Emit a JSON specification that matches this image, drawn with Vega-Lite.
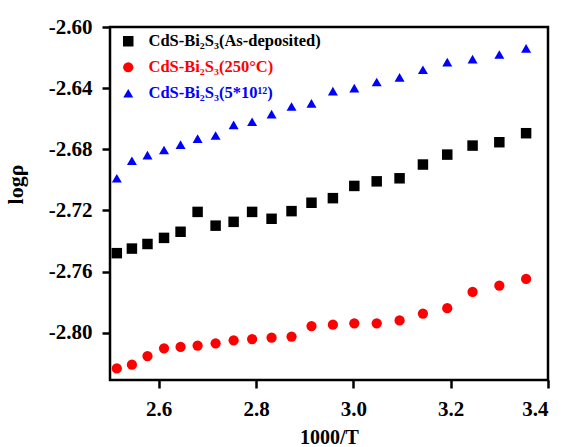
{
  "$schema": "https://vega.github.io/schema/vega-lite/v6.json",
  "autosize": "none",
  "width": 438,
  "height": 353,
  "padding": {"left": 110, "top": 27, "right": 15, "bottom": 67},
  "background": "white",
  "config": {
    "view": {"stroke": "black", "strokeWidth": 2.5},
    "font": "Liberation Serif",
    "axis": {
      "domain": false,
      "grid": false,
      "ticks": true,
      "tickColor": "black",
      "tickWidth": 2.5,
      "tickSize": 8,
      "labelFont": "Liberation Serif",
      "labelFontWeight": "bold",
      "labelFontSize": 21,
      "labelColor": "black",
      "labelPadding": 10,
      "titleFont": "Liberation Serif",
      "titleFontWeight": "bold",
      "titleFontSize": 21,
      "titleColor": "black"
    }
  },
  "data": {
    "values": [
      {"x": 2.514, "y": -2.748, "s": "CdS-Bi₂S₃(As-deposited)"},
      {"x": 2.545, "y": -2.745, "s": "CdS-Bi₂S₃(As-deposited)"},
      {"x": 2.577, "y": -2.742, "s": "CdS-Bi₂S₃(As-deposited)"},
      {"x": 2.611, "y": -2.738, "s": "CdS-Bi₂S₃(As-deposited)"},
      {"x": 2.645, "y": -2.734, "s": "CdS-Bi₂S₃(As-deposited)"},
      {"x": 2.680, "y": -2.721, "s": "CdS-Bi₂S₃(As-deposited)"},
      {"x": 2.717, "y": -2.730, "s": "CdS-Bi₂S₃(As-deposited)"},
      {"x": 2.754, "y": -2.7275, "s": "CdS-Bi₂S₃(As-deposited)"},
      {"x": 2.792, "y": -2.721, "s": "CdS-Bi₂S₃(As-deposited)"},
      {"x": 2.832, "y": -2.7255, "s": "CdS-Bi₂S₃(As-deposited)"},
      {"x": 2.873, "y": -2.7205, "s": "CdS-Bi₂S₃(As-deposited)"},
      {"x": 2.914, "y": -2.715, "s": "CdS-Bi₂S₃(As-deposited)"},
      {"x": 2.958, "y": -2.712, "s": "CdS-Bi₂S₃(As-deposited)"},
      {"x": 3.002, "y": -2.704, "s": "CdS-Bi₂S₃(As-deposited)"},
      {"x": 3.048, "y": -2.701, "s": "CdS-Bi₂S₃(As-deposited)"},
      {"x": 3.095, "y": -2.699, "s": "CdS-Bi₂S₃(As-deposited)"},
      {"x": 3.143, "y": -2.690, "s": "CdS-Bi₂S₃(As-deposited)"},
      {"x": 3.193, "y": -2.6835, "s": "CdS-Bi₂S₃(As-deposited)"},
      {"x": 3.245, "y": -2.6776, "s": "CdS-Bi₂S₃(As-deposited)"},
      {"x": 3.300, "y": -2.6754, "s": "CdS-Bi₂S₃(As-deposited)"},
      {"x": 3.355, "y": -2.6695, "s": "CdS-Bi₂S₃(As-deposited)"},
      {"x": 2.514, "y": -2.8234, "s": "CdS-Bi₂S₃(250°C)"},
      {"x": 2.545, "y": -2.821, "s": "CdS-Bi₂S₃(250°C)"},
      {"x": 2.577, "y": -2.8153, "s": "CdS-Bi₂S₃(250°C)"},
      {"x": 2.611, "y": -2.8103, "s": "CdS-Bi₂S₃(250°C)"},
      {"x": 2.645, "y": -2.8094, "s": "CdS-Bi₂S₃(250°C)"},
      {"x": 2.680, "y": -2.8085, "s": "CdS-Bi₂S₃(250°C)"},
      {"x": 2.717, "y": -2.807, "s": "CdS-Bi₂S₃(250°C)"},
      {"x": 2.754, "y": -2.805, "s": "CdS-Bi₂S₃(250°C)"},
      {"x": 2.792, "y": -2.8042, "s": "CdS-Bi₂S₃(250°C)"},
      {"x": 2.832, "y": -2.8033, "s": "CdS-Bi₂S₃(250°C)"},
      {"x": 2.873, "y": -2.8026, "s": "CdS-Bi₂S₃(250°C)"},
      {"x": 2.914, "y": -2.7957, "s": "CdS-Bi₂S₃(250°C)"},
      {"x": 2.958, "y": -2.7948, "s": "CdS-Bi₂S₃(250°C)"},
      {"x": 3.002, "y": -2.7939, "s": "CdS-Bi₂S₃(250°C)"},
      {"x": 3.048, "y": -2.7939, "s": "CdS-Bi₂S₃(250°C)"},
      {"x": 3.095, "y": -2.792, "s": "CdS-Bi₂S₃(250°C)"},
      {"x": 3.143, "y": -2.7875, "s": "CdS-Bi₂S₃(250°C)"},
      {"x": 3.193, "y": -2.784, "s": "CdS-Bi₂S₃(250°C)"},
      {"x": 3.245, "y": -2.7734, "s": "CdS-Bi₂S₃(250°C)"},
      {"x": 3.300, "y": -2.7692, "s": "CdS-Bi₂S₃(250°C)"},
      {"x": 3.355, "y": -2.7649, "s": "CdS-Bi₂S₃(250°C)"},
      {"x": 2.514, "y": -2.699, "s": "CdS-Bi₂S₃(5*10¹²)"},
      {"x": 2.545, "y": -2.6875, "s": "CdS-Bi₂S₃(5*10¹²)"},
      {"x": 2.577, "y": -2.6838, "s": "CdS-Bi₂S₃(5*10¹²)"},
      {"x": 2.611, "y": -2.6805, "s": "CdS-Bi₂S₃(5*10¹²)"},
      {"x": 2.645, "y": -2.677, "s": "CdS-Bi₂S₃(5*10¹²)"},
      {"x": 2.680, "y": -2.673, "s": "CdS-Bi₂S₃(5*10¹²)"},
      {"x": 2.717, "y": -2.671, "s": "CdS-Bi₂S₃(5*10¹²)"},
      {"x": 2.754, "y": -2.664, "s": "CdS-Bi₂S₃(5*10¹²)"},
      {"x": 2.792, "y": -2.662, "s": "CdS-Bi₂S₃(5*10¹²)"},
      {"x": 2.832, "y": -2.657, "s": "CdS-Bi₂S₃(5*10¹²)"},
      {"x": 2.873, "y": -2.652, "s": "CdS-Bi₂S₃(5*10¹²)"},
      {"x": 2.914, "y": -2.650, "s": "CdS-Bi₂S₃(5*10¹²)"},
      {"x": 2.958, "y": -2.642, "s": "CdS-Bi₂S₃(5*10¹²)"},
      {"x": 3.002, "y": -2.640, "s": "CdS-Bi₂S₃(5*10¹²)"},
      {"x": 3.048, "y": -2.636, "s": "CdS-Bi₂S₃(5*10¹²)"},
      {"x": 3.095, "y": -2.633, "s": "CdS-Bi₂S₃(5*10¹²)"},
      {"x": 3.143, "y": -2.628, "s": "CdS-Bi₂S₃(5*10¹²)"},
      {"x": 3.193, "y": -2.623, "s": "CdS-Bi₂S₃(5*10¹²)"},
      {"x": 3.245, "y": -2.621, "s": "CdS-Bi₂S₃(5*10¹²)"},
      {"x": 3.300, "y": -2.618, "s": "CdS-Bi₂S₃(5*10¹²)"},
      {"x": 3.355, "y": -2.614, "s": "CdS-Bi₂S₃(5*10¹²)"}
    ]
  },
  "mark": {"type": "point", "filled": true, "opacity": 1},
  "encoding": {
    "x": {
      "field": "x", "type": "quantitative",
      "scale": {"domain": [2.5, 3.4], "nice": false, "zero": false},
      "axis": {"values": [2.6, 2.8, 3.0, 3.2, 3.4], "format": ".1f", "title": "1000/T", "titleFontSize": 20, "titlePadding": 8}
    },
    "y": {
      "field": "y", "type": "quantitative",
      "scale": {"domain": [-2.831, -2.6], "nice": false, "zero": false},
      "axis": {"values": [-2.8, -2.76, -2.72, -2.68, -2.64, -2.6], "format": ".2f", "labelExpr": "replace(datum.label, '−', '-')", "title": "logρ", "titleFontSize": 22, "titleX": -83, "titleY": 157}
    },
    "size": {
      "field": "s", "type": "nominal",
      "scale": {
        "domain": ["CdS-Bi₂S₃(As-deposited)", "CdS-Bi₂S₃(250°C)", "CdS-Bi₂S₃(5*10¹²)"],
        "range": [110, 100, 200]
      },
      "legend": null
    },
    "color": {
      "field": "s", "type": "nominal",
      "scale": {
        "domain": ["CdS-Bi₂S₃(As-deposited)", "CdS-Bi₂S₃(250°C)", "CdS-Bi₂S₃(5*10¹²)"],
        "range": ["#000000", "#ff0000", "#0000ff"]
      },
      "legend": {
        "title": null,
        "orient": "none",
        "legendX": 10,
        "legendY": 6,
        "padding": 0,
        "symbolSize": 85,
        "labelOffset": 12,
        "labelLimit": 400,
        "rowPadding": 9,
        "labelFont": "Liberation Serif",
        "labelFontWeight": "bold",
        "labelFontSize": 16.5,
        "symbolStrokeWidth": 0,
        "labelColor": {"expr": "scale('color', datum.value)"}
      }
    },
    "shape": {
      "field": "s", "type": "nominal",
      "scale": {
        "domain": ["CdS-Bi₂S₃(As-deposited)", "CdS-Bi₂S₃(250°C)", "CdS-Bi₂S₃(5*10¹²)"],
        "range": ["square", "circle", "triangle-up"]
      }
    }
  }
}
